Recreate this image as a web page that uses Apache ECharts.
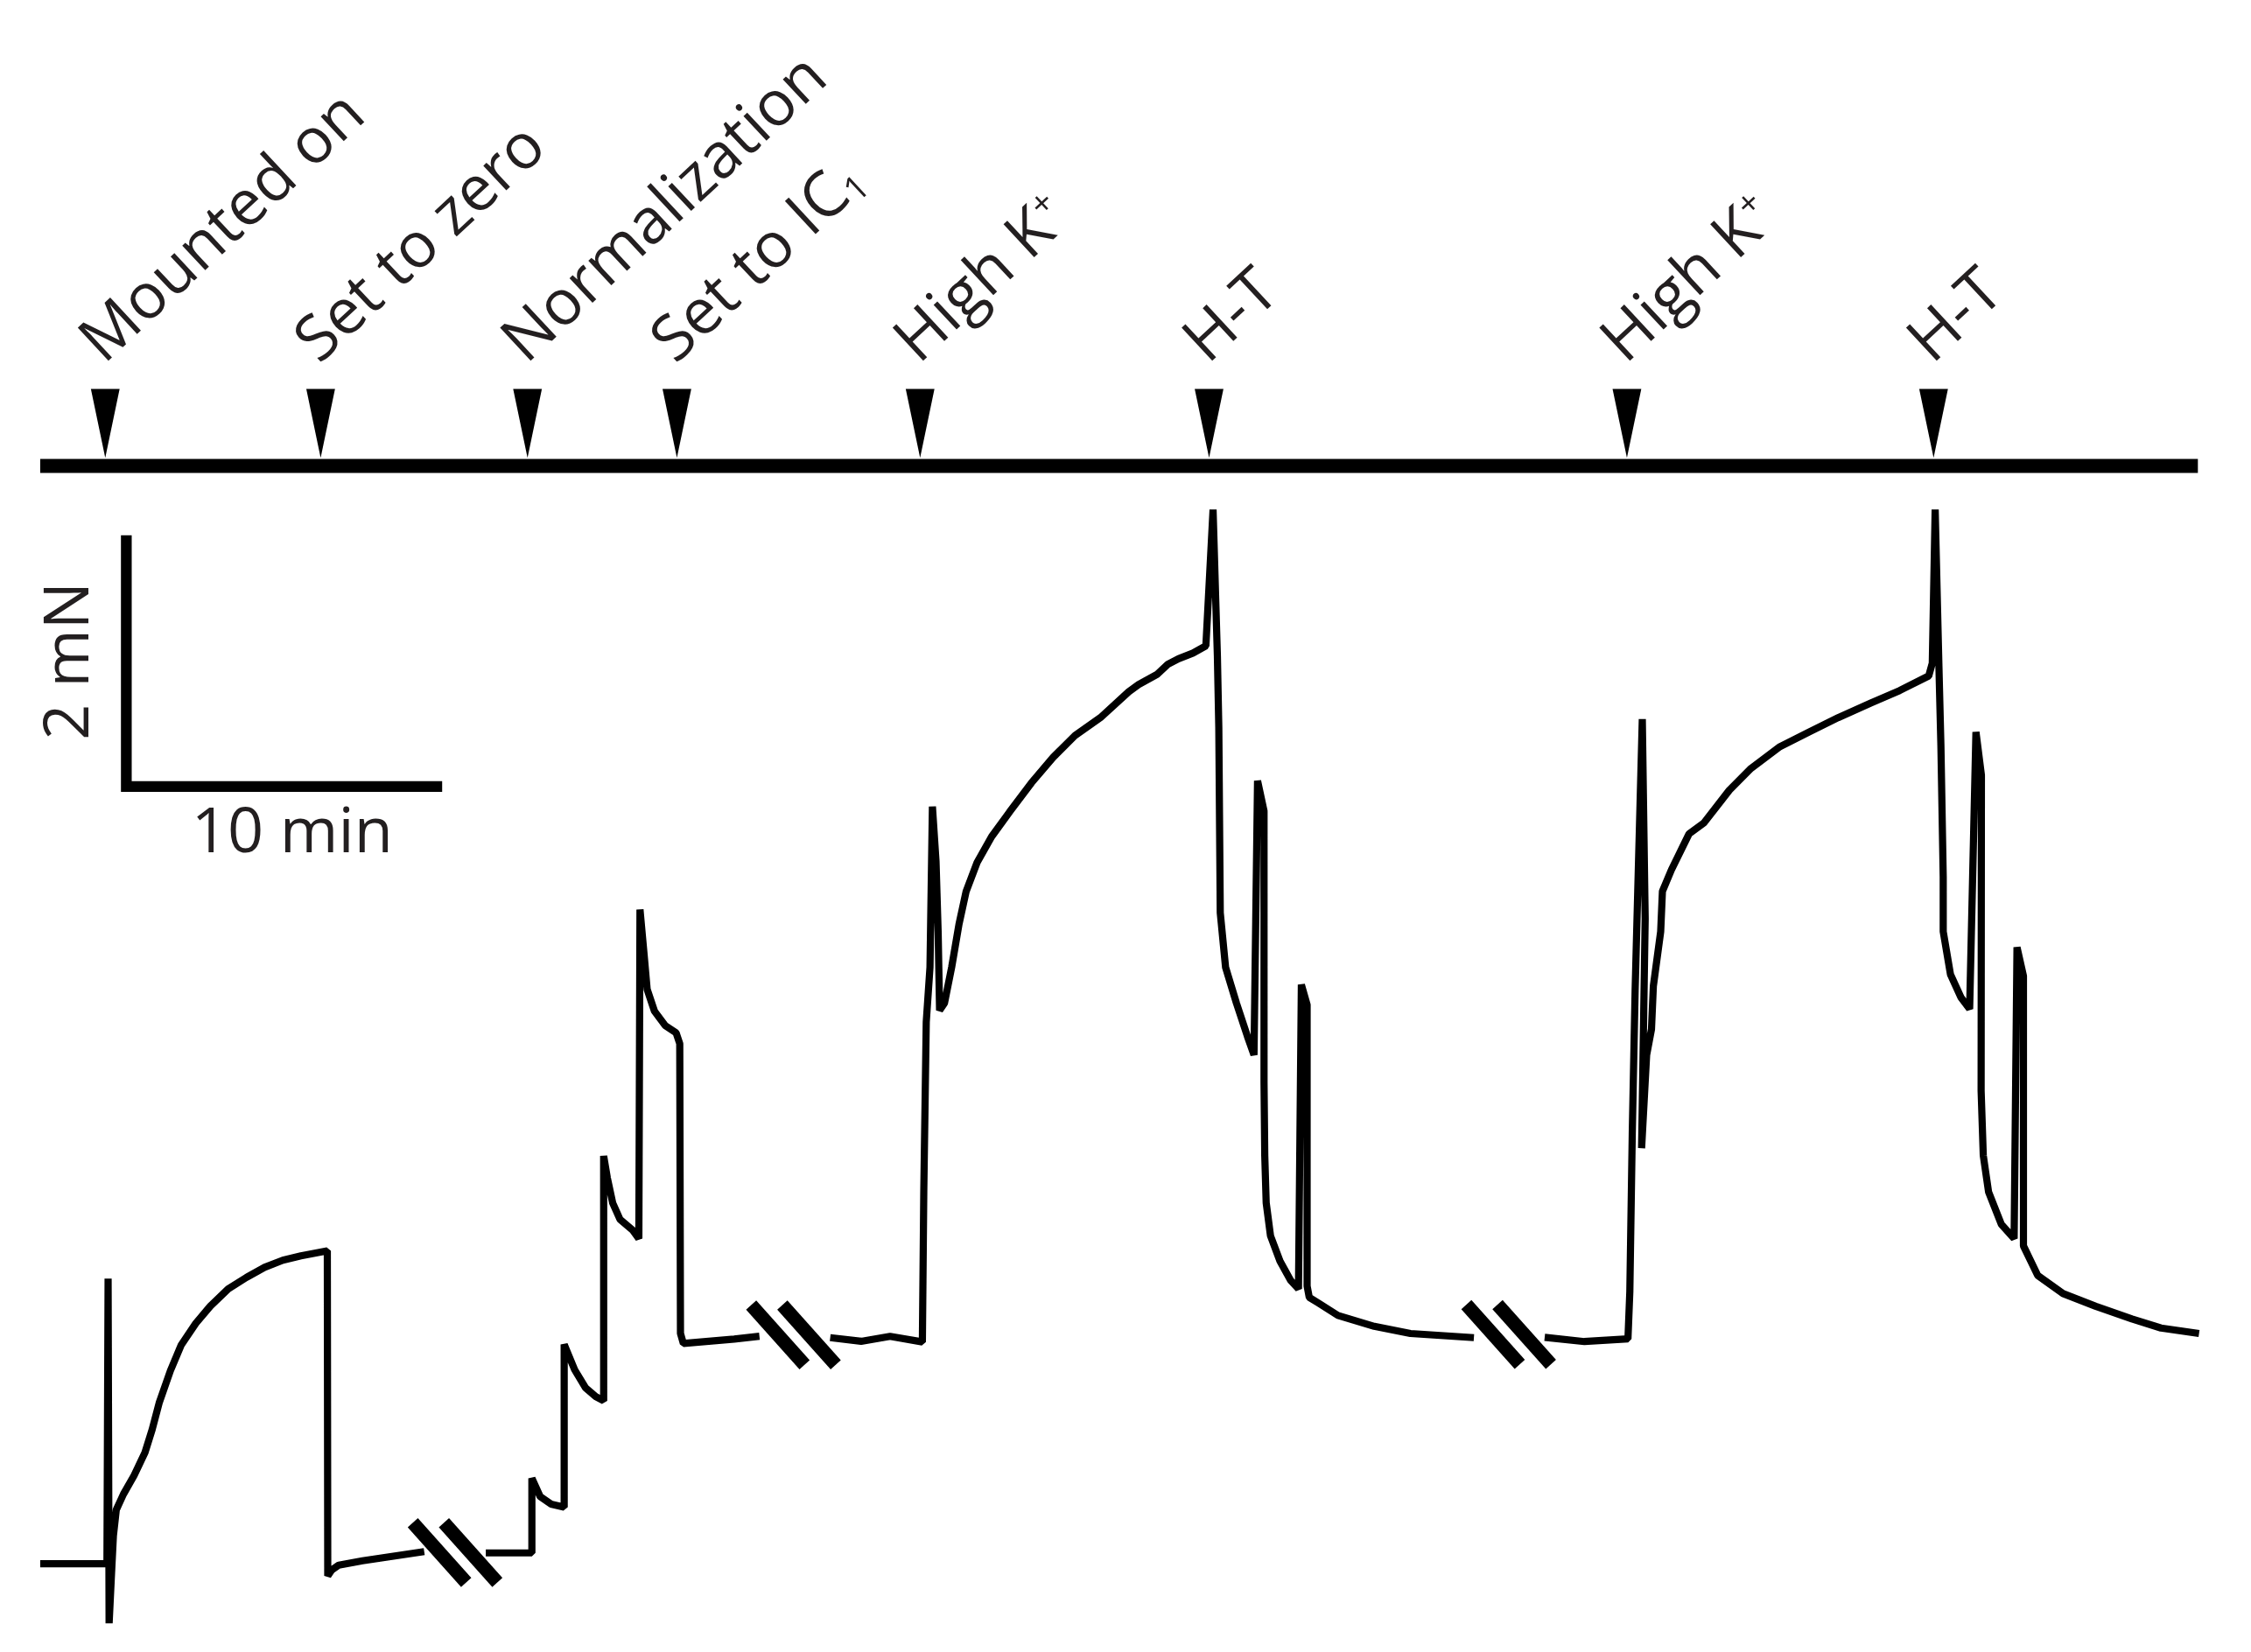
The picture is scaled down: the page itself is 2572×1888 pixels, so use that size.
<!DOCTYPE html>
<html>
<head>
<meta charset="utf-8">
<script src="https://cdn.jsdelivr.net/npm/echarts@6/dist/echarts.min.js"></script>
<style>
html,body{margin:0;padding:0;background:#ffffff;}
#chart{width:2572px;height:1888px;}
</style>
</head>
<body>
<div id="chart"></div>
<script>
// ---------- DATA (time in apparent minutes, force in mN) ----------
const eventNames = ['Mounted on', 'Set to zero', 'Normalization', 'Set to IC₁', 'High K⁺', 'H-T', 'High K⁺', 'H-T'];
const eventTimes = [2.06, 8.88, 15.43, 20.16, 27.86, 37.01, 50.24, 59.95];

const seg1Time  = [0, 2.114, 2.15, 2.182, 2.25, 2.318, 2.409, 2.636, 2.973, 3.318, 3.545, 3.773, 4.123, 4.468, 4.927, 5.386, 5.955, 6.532, 7.105, 7.682, 8.255, 9.091, 9.105, 9.227, 9.455, 10.205, 12.159];
const seg1Force = [0, 0, 2.271, -0.474, -0.12, 0.223, 0.429, 0.554, 0.703, 0.886, 1.069, 1.286, 1.537, 1.743, 1.914, 2.051, 2.189, 2.28, 2.36, 2.417, 2.451, 2.491, -0.097, -0.051, -0.011, 0.023, 0.097];

const seg2Time  = [14.109, 15.568, 15.568, 15.832, 16.173, 16.591, 16.591, 16.923, 17.268, 17.591, 17.841, 17.841, 17.955, 18.127, 18.359, 18.759, 18.955, 18.991, 19.127, 19.218, 19.45, 19.791, 20.136, 20.25, 20.273, 20.364, 21.973, 22.773];
const seg2Force = [0.086, 0.086, 0.68, 0.534, 0.475, 0.451, 1.746, 1.544, 1.4, 1.331, 1.297, 3.247, 3.075, 2.872, 2.742, 2.657, 2.589, 5.209, 4.833, 4.574, 4.4, 4.285, 4.227, 4.141, 1.834, 1.754, 1.789, 1.811];

const seg3Time  = [25.014, 25.991, 26.909, 27.932, 27.977, 28.055, 28.173, 28.25, 28.364, 28.432, 28.477, 28.632, 28.859, 29.091, 29.318, 29.664, 30.123, 30.695, 31.386, 32.073, 32.764, 33.568, 34.464, 34.777, 35.355, 35.695, 36.041, 36.5, 36.909, 37.136, 37.273, 37.318, 37.364, 37.532, 37.877, 38.223, 38.432, 38.545, 38.75, 38.75, 38.773, 38.818, 38.955, 39.255, 39.591, 39.841, 39.932, 40.114, 40.114, 40.182, 40.459, 41.091, 42.241, 43.386, 45.395];
const seg3Force = [1.8, 1.771, 1.811, 1.766, 2.966, 4.314, 4.749, 6.029, 5.594, 5.023, 4.406, 4.463, 4.749, 5.091, 5.354, 5.583, 5.789, 5.987, 6.218, 6.421, 6.594, 6.737, 6.943, 7.0, 7.08, 7.16, 7.206, 7.251, 7.309, 8.394, 7.229, 6.657, 5.183, 4.749, 4.463, 4.2, 4.051, 6.234, 5.994, 3.834, 3.251, 2.874, 2.611, 2.41, 2.257, 2.189, 4.611, 4.451, 2.211, 2.121, 2.078, 1.977, 1.89, 1.833, 1.8];

const seg4Time  = [47.636, 48.895, 50.273, 50.332, 50.409, 50.5, 50.727, 50.818, 50.705, 50.864, 51.018, 51.077, 51.309, 51.364, 51.65, 52.205, 52.677, 53.482, 54.168, 55.086, 56.005, 56.927, 57.959, 58.877, 59.795, 59.909, 60.0, 60.114, 60.182, 60.255, 60.255, 60.486, 60.818, 61.091, 61.291, 61.464, 61.455, 61.523, 61.691, 62.095, 62.5, 62.591, 62.795, 62.795, 63.245, 64.05, 65.082, 66.232, 67.15, 68.355];
const seg4Force = [1.803, 1.769, 1.79, 2.166, 3.423, 4.566, 6.726, 5.137, 3.309, 4.051, 4.257, 4.6, 5.034, 5.354, 5.526, 5.811, 5.899, 6.159, 6.333, 6.506, 6.622, 6.737, 6.853, 6.953, 7.069, 7.171, 8.394, 7.194, 6.509, 5.469, 5.034, 4.691, 4.509, 4.417, 6.623, 6.28, 3.766, 3.251, 2.96, 2.703, 2.589, 4.909, 4.68, 2.531, 2.296, 2.151, 2.05, 1.949, 1.877, 1.833];

const breakTimes  = [13.136, 23.85, 46.495];
const breakForces = [0.089, 1.822, 1.825];

const scaleBarMinutes = 10;
const scaleBarMilliNewton = 2;
const scaleBarLabels = ['2 mN', '10 min'];

// ---------- LAYOUT ----------
const W = 2572, H = 1888;
const REF_W = 1568;
const S = W / REF_W;
const PX_PER_MIN = 22, PX_PER_MN = 87.5;
const xMin = -28 / PX_PER_MIN, xMax = (REF_W - 28) / PX_PER_MIN;
const refH = H / S;
const yMax = 1089.5 / PX_PER_MN, yMin = (1089.5 - refH) / PX_PER_MN;
const pxT = p => p / PX_PER_MIN;
const pxF = p => p / PX_PER_MN;

const eventLineF = pxF(1089.5 - 324.6);
const arrowF = pxF(1089.5 - 295);
const labelF = pxF(1089.5 - 245);
const labelDT = pxT(-9.5);
const barT = pxT(88 - 28), barF = pxF(1089.5 - 548);

const INK = '#000000';
const TEXT = '#231f20';
const FONT = 'Open Sans';
const FS = Math.round(44 * S);

const zip = (a, b) => a.map((v, i) => [v, b[i]]);
const traceStyle = { color: INK, width: 5 * S, join: 'bevel', cap: 'butt', opacity: 1 };
function traceSeries(t, f) {
  return { type: 'line', data: zip(t, f), showSymbol: false, symbol: 'none', lineStyle: traceStyle,
           silent: true, z: 3, animation: false, clip: false };
}
const hidden = { color: 'rgba(0,0,0,0)', opacity: 1 };

const chart = echarts.init(document.getElementById('chart'), null, { renderer: 'canvas', width: W, height: H });

const option = {
  backgroundColor: '#ffffff',
  animation: false,
  grid: { left: 0, right: 0, top: 0, bottom: 0 },
  xAxis: { type: 'value', min: xMin, max: xMax, show: false },
  yAxis: { type: 'value', min: yMin, max: yMax, show: false },
  series: [
    traceSeries(seg1Time, seg1Force),
    traceSeries(seg2Time, seg2Force),
    traceSeries(seg3Time, seg3Force),
    traceSeries(seg4Time, seg4Force),
    // event line
    { type: 'line', data: [[0, eventLineF], [pxT(1531 - 28), eventLineF]], showSymbol: false, symbol: 'none',
      lineStyle: { color: INK, width: 9.8 * S, cap: 'butt', opacity: 1 }, silent: true, z: 3 },
    // arrowheads
    { type: 'scatter', data: eventTimes.map(t => [t, arrowF]), symbol: 'path://M0,0L2,0L1,5Z',
      symbolKeepAspect: false, symbolSize: [20 * S, 48 * S], itemStyle: { color: INK, opacity: 1 }, silent: true, z: 4 },
    // event labels
    { type: 'scatter', data: eventTimes.map((t, i) => ({ value: [t + labelDT, labelF], name: eventNames[i] })),
      symbolSize: 1, itemStyle: hidden, silent: true, z: 5,
      label: { show: true, position: 'inside', rotate: 43, align: 'left', verticalAlign: 'middle', opacity: 1,
        fontFamily: FONT, fontSize: FS, color: TEXT,
        formatter: p => p.name.replace('₁', '{sub|1}').replace('⁺', '{sup|+}'),
        rich: {
          sub: { fontFamily: FONT, fontSize: Math.round(FS * 0.55), color: TEXT, verticalAlign: 'bottom' },
          sup: { fontFamily: FONT, fontSize: Math.round(FS * 0.55), color: TEXT, verticalAlign: 'top' }
        } } },
    // scale bar
    { type: 'line', data: [[barT, barF + scaleBarMilliNewton], [barT, barF], [barT + scaleBarMinutes, barF]],
      showSymbol: false, symbol: 'none', lineStyle: { color: INK, width: 7.5 * S, join: 'miter', cap: 'butt', opacity: 1 }, silent: true, z: 3 },
    // scale bar labels
    { type: 'scatter', symbolSize: 1, itemStyle: hidden, silent: true, z: 5,
      data: [
        { value: [barT + pxT(-39), barF + scaleBarMilliNewton / 2], name: scaleBarLabels[0], label: { rotate: 90 } },
        { value: [barT + scaleBarMinutes / 2 + pxT(5.5), barF - pxF(33)], name: scaleBarLabels[1] }
      ],
      label: { show: true, position: 'inside', align: 'center', verticalAlign: 'middle', opacity: 1,
        fontFamily: FONT, fontSize: FS, color: TEXT, formatter: p => p.name } },
    // break marks
    { type: 'custom', data: zip(breakTimes, breakForces), silent: true, z: 4, clip: false,
      renderItem: (params, api) => {
        const c = api.coord([api.value(0), api.value(1)]);
        const children = [-1, 1].map(k => {
          const cx = c[0] + k * 10.85 * S;
          return { type: 'line', shape: { x1: cx - 18.6 * S, y1: c[1] - 20.8 * S, x2: cx + 18.6 * S, y2: c[1] + 20.8 * S },
                   style: { stroke: INK, lineWidth: 9.5 * S, lineCap: 'butt', opacity: 1 } };
        });
        return { type: 'group', children };
      } }
  ]
};
chart.setOption(option);
</script>
</body>
</html>
